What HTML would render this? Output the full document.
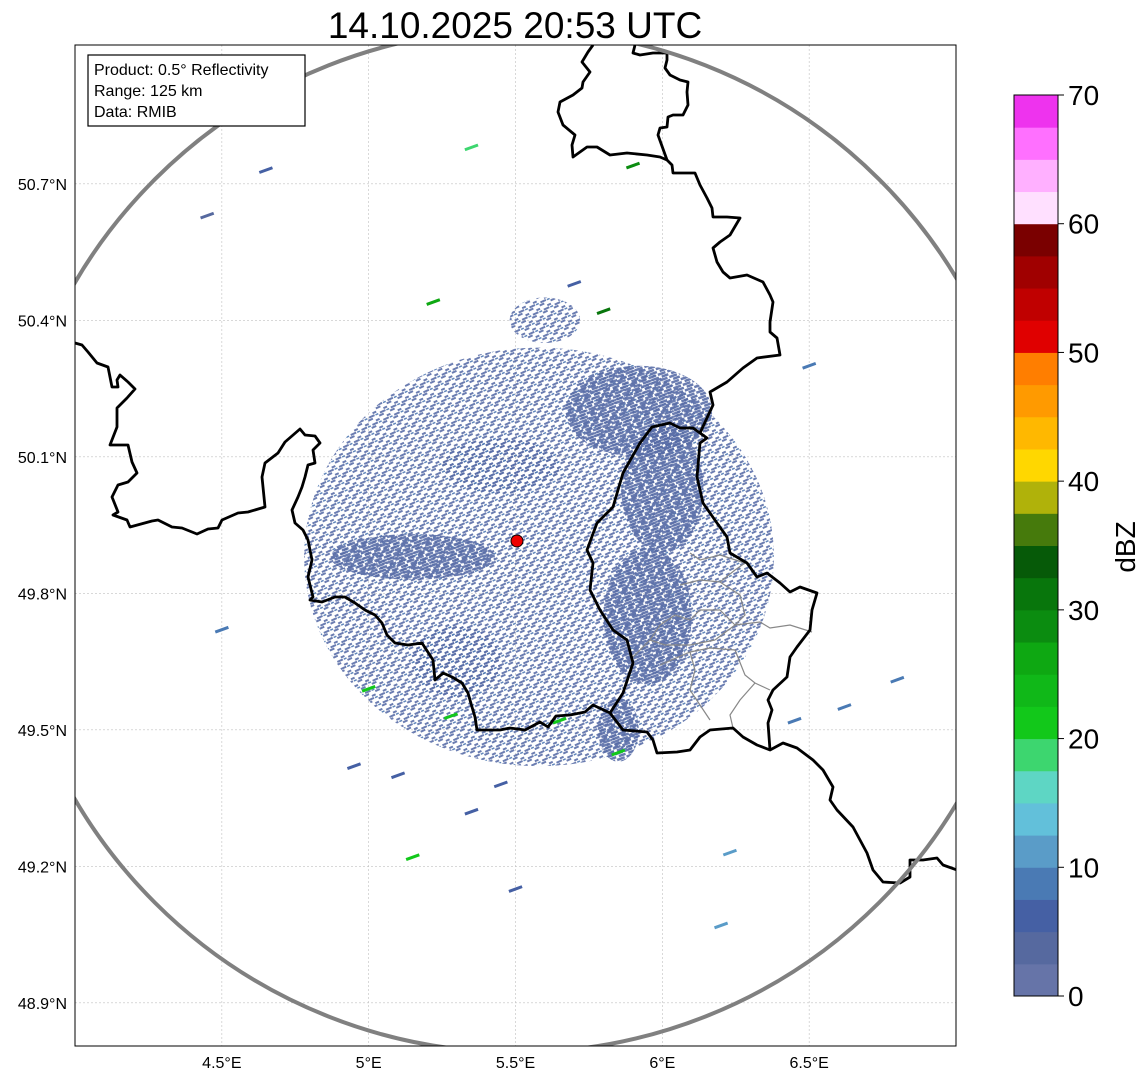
<!DOCTYPE html>
<html><head><meta charset="utf-8"><style>
html,body{margin:0;padding:0;background:#fff;}
svg text{font-family:"Liberation Sans","DejaVu Sans",sans-serif;}
</style></head><body>
<svg id="chart" width="1148" height="1081" viewBox="0 0 1148 1081" xmlns="http://www.w3.org/2000/svg">
<defs>
<pattern id="sparse" width="12" height="8" patternUnits="userSpaceOnUse" patternTransform="rotate(-25)">
<rect x="0" y="0" width="5" height="2" fill="#5a6ea8"/><rect x="7" y="3" width="4" height="2" fill="#5a6ea8"/><rect x="2" y="5.5" width="6" height="2" fill="#5a6ea8"/><rect x="9" y="6" width="3" height="1.5" fill="#4f78b2"/>
</pattern>
<pattern id="dense" width="10" height="6" patternUnits="userSpaceOnUse" patternTransform="rotate(-20)">
<rect x="0" y="0" width="8" height="2.5" fill="#5a6ea8"/><rect x="3" y="3" width="7" height="2.5" fill="#566ba6"/>
</pattern>
<clipPath id="plotclip"><rect x="75" y="45" width="881" height="1001"/></clipPath>
</defs>
<text x="515" y="38" font-size="37" text-anchor="middle">14.10.2025 20:53 UTC</text>
<g id="plot" clip-path="url(#plotclip)"></g>
<rect x="75" y="45" width="881" height="1001" fill="none" stroke="#000" stroke-width="1"/>
<g id="axes"></g>
<g>
<rect x="88" y="55" width="217" height="71" fill="#fff" stroke="#000" stroke-width="1.2"/>
<text x="94" y="75" font-size="16">Product: 0.5° Reflectivity</text>
<text x="94" y="96" font-size="16">Range: 125 km</text>
<text x="94" y="117" font-size="16">Data: RMIB</text>
</g>
<g id="cbar"></g>
<text transform="translate(1135,547) rotate(-90)" font-size="28" text-anchor="middle">dBZ</text>
</svg>
<script>
// ---- data ----
const lonTicks = [4.5, 5, 5.5, 6, 6.5];
const lonLabels = ["4.5°E","5°E","5.5°E","6°E","6.5°E"];
const latTicks = [50.7, 50.4, 50.1, 49.8, 49.5, 49.2, 48.9];
const latLabels = ["50.7°N","50.4°N","50.1°N","49.8°N","49.5°N","49.2°N","48.9°N"];
const radarSite = [5.505, 49.915];
const rangeKm = 125;
const cbarLevels = [0,2.5,5,7.5,10,12.5,15,17.5,20,22.5,25,27.5,30,32.5,35,37.5,40,42.5,45,47.5,50,52.5,55,57.5,60,62.5,65,67.5,70];
const cbarColors = ["#6674a8","#56699f","#4560a4","#4a7ab4","#5a9cc8","#62c0da","#5ed6c4","#3dd66f","#12c81a","#10b818","#0ea812","#0b8c10","#08760c","#065a08","#467a0c","#b0b20a","#ffd700","#ffb800","#ff9a00","#ff7e00","#e00000","#c00000","#a00000","#7a0000","#ffe0ff","#ffb0ff","#ff70ff","#ee33ee"];
const cbarTicks = [0,10,20,30,40,50,60,70];
// echo areas: lon, lat, half-width (deg lon), half-height (deg lat), density
const echoLon = [5.58, 5.92, 6.0, 5.15, 5.95, 5.85, 5.6, 5.45, 5.3];
const echoLat = [49.88, 50.2, 50.03, 49.88, 49.75, 49.5, 50.4, 50.08, 49.65];
const echoRx  = [0.80, 0.25, 0.14, 0.28, 0.15, 0.07, 0.12, 0.2, 0.15];
const echoRy  = [0.46, 0.10, 0.14, 0.05, 0.15, 0.07, 0.05, 0.06, 0.08];
const echoDense = [0, 1, 1, 1, 1, 1, 0, 0, 0];
// isolated specks: lon, lat, dBZ
const speckLon = [5.35,4.65,4.45,5.0,5.28,5.9,6.5,6.8,6.2,6.23,5.5,4.95,5.15,5.35,5.65,6.45,6.62,5.85,4.5,5.8,5.22,5.7,5.1,5.45];
const speckLat = [50.78,50.73,50.63,49.59,49.53,50.74,50.3,49.61,49.07,49.23,49.15,49.42,49.22,49.32,49.52,49.52,49.55,49.45,49.72,50.42,50.44,50.48,49.4,49.38];
const speckDbz = [18,5,3,22,20,28,8,8,12,10,5,5,22,5,22,8,8,20,8,30,25,5,5,5];
// ---- projection ----
const SVGNS="http://www.w3.org/2000/svg";
const xOf = lon => 75 + (lon-4)*293.67;
const yOf = lat => 45 + (51.005-lat)*455;
const cbY = v => 996 - v/70*901;
function colorFor(v){let i=Math.min(cbarColors.length-1,Math.max(0,Math.floor(v/2.5)));return cbarColors[i];}
function mk(tag,attrs,parent){const e=document.createElementNS(SVGNS,tag);for(const k in attrs)e.setAttribute(k,attrs[k]);parent.appendChild(e);return e;}
const plot=document.getElementById('plot'), axes=document.getElementById('axes'), cbar=document.getElementById('cbar');
// grid
lonTicks.forEach((t,i)=>{
  const l=mk('line',{x1:xOf(t),x2:xOf(t),y1:45,y2:1046,stroke:'#c0c0c0','stroke-width':0.6,'stroke-dasharray':'2,2'},plot);
  
  
  const tx=mk('text',{x:xOf(t),y:1068,'font-size':16,'text-anchor':'middle'},axes);tx.textContent=lonLabels[i];
  
  
});
latTicks.forEach((t,i)=>{
  const l=mk('line',{x1:75,x2:956,y1:yOf(t),y2:yOf(t),stroke:'#c0c0c0','stroke-width':0.6,'stroke-dasharray':'2,2'},plot);
  
  
  const tx=mk('text',{x:67,y:yOf(t)+6,'font-size':16,'text-anchor':'end'},axes);tx.textContent=latLabels[i];
  
  
});
// echoes
echoLon.forEach((lo,i)=>{
  const cx=xOf(lo), cy=yOf(echoLat[i]), rx=echoRx[i]*293.67, ry=echoRy[i]*455;
  const e=mk('ellipse',{cx:cx,cy:cy,rx:rx,ry:ry,fill:echoDense[i]?'url(#dense)':'url(#sparse)',opacity:echoDense[i]?0.9:0.9},plot);
  
  
});
speckLon.forEach((lo,i)=>{
  const r=mk('rect',{x:xOf(lo)-7,y:yOf(speckLat[i])-1.5,width:14,height:3,fill:colorFor(speckDbz[i]),transform:`rotate(-20 ${xOf(lo)} ${yOf(speckLat[i])})`},plot);
  
  
});
// borders (pixel traces of map geography)
const borders=[
 "75,343 82,345 88,352 97,363 108,367 112,387 118,387 117,380 120,375 128,382 135,389 127,398 117,408 117,427 110,445 128,445 132,462 137,473 128,482 118,485 112,497 118,512 113,515 127,520 130,527 152,521 158,520 172,527 182,528 197,534 208,529 218,528 222,520 238,513 248,512 265,507 262,477 265,463 278,453 285,442 300,429 305,435 315,436 320,443 313,450 315,463 308,465 305,477 302,487 298,497 292,510 295,523 303,530 308,540 312,560 308,577 313,597 310,600 322,602 335,597 345,597 355,603 365,610 375,615 382,623 387,635 395,643 408,645 422,643 433,660 435,680 443,673 452,677 462,683 468,693 472,707 475,717 477,730 500,730 510,728 525,730 540,722 548,727 556,716 570,715 585,712 593,705 610,713",
 "610,713 623,730 647,732 653,740 657,753 677,752 690,750 700,737 710,730 733,728 743,737 757,745 770,750 783,743 797,748 813,760 823,770 833,787 830,800 837,810 853,827 860,840 867,853 873,870 883,882 900,883 910,877 910,860 923,860 937,858 943,865 957,870",
 "610,713 623,693 633,663 627,640 613,630 600,610 590,590 593,563 587,550 597,523 613,507 623,473 640,443 652,427 670,423 680,428 693,428 700,433 707,438 700,443 697,477 703,503 717,523 727,537 730,553 747,563 757,577 767,573 780,583 790,592 800,587 817,593 812,610 810,630 797,647 790,657 787,677 773,690 768,700 772,710 768,723 770,750",
 "700,433 713,405 710,392 727,382 743,368 757,358 780,355 777,338 770,332 770,322 773,302 770,295 763,282 747,275 730,278 723,272 717,262 713,248 720,242 730,235 740,218 727,217 713,217 712,208 707,198 700,185 695,173 680,173 673,173 672,165 667,160 660,157 647,155 627,153 610,155 597,147 587,147 573,157 572,145 575,135 563,125 558,112 560,102 573,95 582,88 583,82 590,72 582,62 588,52 593,45",
 "667,160 658,135 660,128 667,127 668,117 673,115 683,115 688,105 687,92 688,82 680,80 670,75 665,68 667,60 667,53 653,53 640,55 633,53 635,45"
];
const districts=[
 "690,553 700,560 720,555 745,563",
 "680,585 700,580 720,582 735,570 745,563",
 "720,582 740,595 745,615 735,625 715,640",
 "735,625 760,622 770,628 790,625 812,632",
 "650,640 665,645 690,645 715,640",
 "660,665 690,652 710,648 735,650 745,675 755,683 770,690",
 "690,652 695,670 690,690 700,705 710,720",
 "755,683 740,700 730,715 733,728",
 "630,660 650,640 660,625 675,615 690,620 700,610 720,610 735,625"
];
districts.forEach(p=>{
  const l=mk('polyline',{points:p,fill:'none',stroke:'#888','stroke-width':1.2},plot);
  
  
});
borders.forEach(p=>{
  const l=mk('polyline',{points:p,fill:'none',stroke:'#000','stroke-width':2.8,'stroke-linejoin':'round'},plot);
  
  
});
// range ring
const rcx=xOf(radarSite[0]), rcy=yOf(radarSite[1]);
const rrx=rangeKm/(111.32*Math.cos(radarSite[1]*Math.PI/180))*293.67;
const rry=rangeKm/111.2*455;
const ring=mk('ellipse',{cx:rcx,cy:rcy,rx:rrx,ry:rry,fill:'none',stroke:'#808080','stroke-width':4},plot);


const site=mk('circle',{cx:rcx,cy:rcy,r:6,fill:'#ee0000',stroke:'#000','stroke-width':1},plot);


// colorbar
cbarColors.forEach((c,i)=>{
  const y1=cbY(cbarLevels[i+1]), y0=cbY(cbarLevels[i]);
  const r=mk('rect',{x:1014,y:y1,width:44,height:y0-y1+0.5,fill:c},cbar);
  
  
});
const cf=mk('rect',{x:1014,y:95,width:44,height:901,fill:'none',stroke:'#000','stroke-width':1},cbar);


cbarTicks.forEach(t=>{
  mk('line',{x1:1058,x2:1064,y1:cbY(t),y2:cbY(t),stroke:'#000','stroke-width':1},cbar);
  const tx=mk('text',{x:1068,y:cbY(t)+10,'font-size':28},cbar);tx.textContent=t;
  
  
});
</script>
</body></html>
